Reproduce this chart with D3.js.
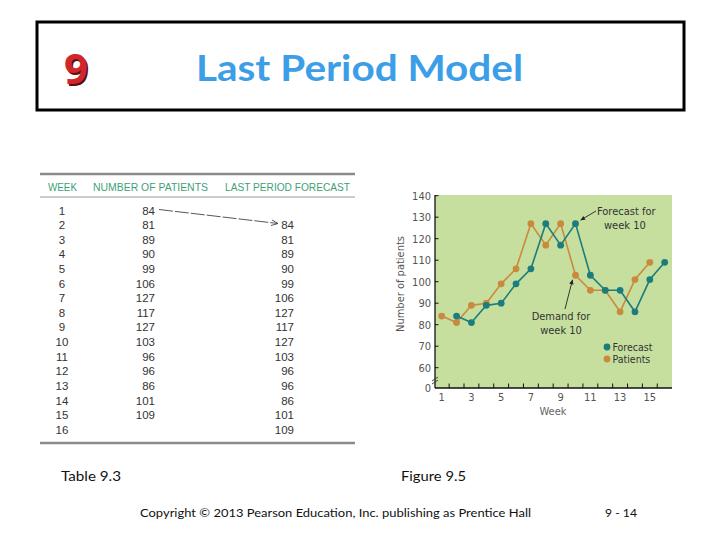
<!DOCTYPE html>
<html><head><meta charset="utf-8">
<script src="https://cdn.jsdelivr.net/npm/d3@7"></script>
<style>
html,body{margin:0;padding:0;background:#fff;}
svg{display:block;}
</style></head>
<body>
<svg id="c" width="720" height="540"></svg>
<script>
const weeks = [1,2,3,4,5,6,7,8,9,10,11,12,13,14,15,16];
const patients = [84,81,89,90,99,106,127,117,127,103,96,96,86,101,109,null];
const forecast = [null,84,81,89,90,99,106,127,117,127,103,96,96,86,101,109];
const yTicks = [60,70,80,90,100,110,120,130,140];
const xTickLabels = [1,3,5,7,9,11,13,15];
const tableHeaders = ["WEEK","NUMBER OF PATIENTS","LAST PERIOD FORECAST"];

(function(){
const svg = d3.select("#c");
const SANS = "Lato, 'Open Sans', sans-serif";

// Header box
svg.append("rect").attr("x",37).attr("y",22).attr("width",647).attr("height",88)
  .attr("fill","#fff").attr("stroke","#000").attr("stroke-width",3);
const nineFont = "'Noto Sans', 'Open Sans', sans-serif";
svg.append("text").attr("x",76).attr("y",84).attr("text-anchor","middle")
  .attr("font-family",nineFont).attr("font-weight",700).attr("font-size",42)
  .attr("fill","#5a1010").text("9").attr("transform","translate(1.5,1.5)");
svg.append("text").attr("x",76).attr("y",84).attr("text-anchor","middle")
  .attr("font-family",nineFont).attr("font-weight",700).attr("font-size",42)
  .attr("fill","#d1262b").text("9");
svg.append("text").attr("x",196).attr("y",81)
  .attr("font-family",SANS).attr("font-weight",700).attr("font-size",36)
  .attr("fill","#3d9ee8").attr("textLength",327).attr("lengthAdjust","spacingAndGlyphs")
  .text("Last Period Model");

// Table
const T = svg.append("g");
const tFont = "'Liberation Sans', Arial, sans-serif";
T.append("line").attr("x1",40).attr("x2",355).attr("y1",174).attr("y2",174).attr("stroke","#8a8a8a").attr("stroke-width",2.5);
T.append("line").attr("x1",40).attr("x2",355).attr("y1",197).attr("y2",197).attr("stroke","#9a9a9a").attr("stroke-width",1);
T.append("line").attr("x1",40).attr("x2",355).attr("y1",443).attr("y2",443).attr("stroke","#8a8a8a").attr("stroke-width",2.5);
const hdrX = [48,93,225];
const hdrW = [29,115,125];
tableHeaders.forEach((h,i)=>{
  T.append("text").attr("x",hdrX[i]).attr("y",190.5).attr("font-family",tFont).attr("font-size",11)
    .attr("fill","#3f9f78").attr("textLength",hdrW[i]).attr("lengthAdjust","spacingAndGlyphs").text(h);
});
const rowY = d3.scaleLinear().domain([1,16]).range([214.5,433.8]);
weeks.forEach((w,i)=>{
  const yy = rowY(w);
  T.append("text").attr("x",62).attr("y",yy).attr("text-anchor","middle").attr("font-family",tFont)
    .attr("font-size",11.5).attr("fill","#333").text(w);
  if (patients[i]!=null) T.append("text").attr("x",155).attr("y",yy).attr("text-anchor","end").attr("font-family",tFont)
    .attr("font-size",11.5).attr("fill","#333").text(patients[i]);
  if (forecast[i]!=null) T.append("text").attr("x",294).attr("y",yy).attr("text-anchor","end").attr("font-family",tFont)
    .attr("font-size",11.5).attr("fill","#333").text(forecast[i]);
});
// table arrow
const ta = [[159,209.5],[278,223.5]];
T.append("line").attr("x1",ta[0][0]).attr("y1",ta[0][1]).attr("x2",ta[1][0]).attr("y2",ta[1][1])
  .attr("stroke","#444").attr("stroke-width",0.9).attr("stroke-dasharray","14,2");
T.append("path").attr("d",`M${ta[1][0]-6},${ta[1][1]-3.5} L${ta[1][0]},${ta[1][1]} L${ta[1][0]-7},${ta[1][1]+2}`)
  .attr("fill","none").attr("stroke","#444").attr("stroke-width",0.9);

// Chart
const G = svg.append("g");
const pl=435, pr=672, pt=195, pb=388;
const x = d3.scaleLinear().domain([1,16]).range([441.7,664.7]);
const y = d3.scaleLinear().domain([60,140]).range([367.7,195.7]);
G.append("rect").attr("x",pl).attr("y",pt).attr("width",pr-pl).attr("height",pb-pt).attr("fill","#c6df9f");
const cFont = "'DejaVu Sans Condensed','Liberation Sans Narrow',sans-serif";
// axes
G.append("line").attr("x1",pl).attr("x2",pl).attr("y1",pt).attr("y2",pb).attr("stroke","#111").attr("stroke-width",1.3);
G.append("line").attr("x1",pl).attr("x2",pr).attr("y1",pb).attr("y2",pb).attr("stroke","#111").attr("stroke-width",1.3);
yTicks.forEach(t=>{
  G.append("line").attr("x1",pl).attr("x2",pl+3.5).attr("y1",y(t)).attr("y2",y(t)).attr("stroke","#111").attr("stroke-width",1);
  G.append("text").attr("x",pl-4).attr("y",y(t)+4).attr("text-anchor","end").attr("font-family",cFont)
    .attr("font-size",11).attr("fill","#555").text(t);
});
G.append("text").attr("x",pl-4).attr("y",pb+4).attr("text-anchor","end").attr("font-family",cFont)
  .attr("font-size",11).attr("fill","#555").text("0");
// axis break
[0,3].forEach(o=>{
  G.append("line").attr("x1",pl-3).attr("x2",pl+3).attr("y1",pb-9+o+2).attr("y2",pb-9+o-2).attr("stroke","#333").attr("stroke-width",0.9);
});
// x ticks at half weeks
d3.range(1.5,16,1).forEach(t=>{
  G.append("line").attr("x1",x(t)).attr("x2",x(t)).attr("y1",pb).attr("y2",pb-4.5).attr("stroke","#111").attr("stroke-width",1);
});
xTickLabels.forEach(t=>{
  G.append("text").attr("x",x(t)).attr("y",pb+13).attr("text-anchor","middle").attr("font-family",cFont)
    .attr("font-size",11).attr("fill","#555").text(t);
});
G.append("text").attr("x",553).attr("y",415).attr("text-anchor","middle").attr("font-family",cFont)
  .attr("font-size",11).attr("fill","#666").text("Week");
G.append("text").attr("transform","translate(404,284) rotate(-90)").attr("text-anchor","middle").attr("font-family",cFont)
  .attr("font-size",11).attr("fill","#555").text("Number of patients");

const orange="#c98a3e", teal="#1d7c7c";
const line = d3.line().x(d=>x(d.w)).y(d=>y(d.v));
const pData = weeks.map((w,i)=>({w,v:patients[i]})).filter(d=>d.v!=null);
const fData = weeks.map((w,i)=>({w,v:forecast[i]})).filter(d=>d.v!=null);
G.append("path").attr("d",line(pData)).attr("fill","none").attr("stroke",orange).attr("stroke-width",1.6);
G.selectAll(".pd").data(pData).enter().append("circle").attr("class","pd").attr("cx",d=>x(d.w)).attr("cy",d=>y(d.v)).attr("r",3.4).attr("fill",orange);
G.append("path").attr("d",line(fData)).attr("fill","none").attr("stroke",teal).attr("stroke-width",1.6);
G.selectAll(".fd").data(fData).enter().append("circle").attr("class","fd").attr("cx",d=>x(d.w)).attr("cy",d=>y(d.v)).attr("r",3.4).attr("fill",teal);

// legend
G.append("circle").attr("cx",607).attr("cy",347).attr("r",3.4).attr("fill",teal);
G.append("circle").attr("cx",607).attr("cy",359).attr("r",3.4).attr("fill",orange);
G.append("text").attr("x",612.5).attr("y",350.5).attr("font-family",cFont).attr("font-size",10.5).attr("fill","#333").text("Forecast");
G.append("text").attr("x",612.5).attr("y",362.5).attr("font-family",cFont).attr("font-size",10.5).attr("fill","#333").text("Patients");

// annotations
function arrow(x1,y1,x2,y2){
  G.append("line").attr("x1",x1).attr("y1",y1).attr("x2",x2).attr("y2",y2).attr("stroke","#222").attr("stroke-width",0.9);
  const a=Math.atan2(y2-y1,x2-x1), L=5, w=0.45;
  const p1=[x2-L*Math.cos(a-w),y2-L*Math.sin(a-w)], p2=[x2-L*Math.cos(a+w),y2-L*Math.sin(a+w)];
  G.append("path").attr("d",`M${x2},${y2}L${p1[0]},${p1[1]}L${p2[0]},${p2[1]}Z`).attr("fill","#222");
}
const fx=x(10), fy=y(forecast[9]);
arrow(596,211,fx+5,fy-3.5);
G.append("text").attr("x",597).attr("y",215).attr("font-family",cFont).attr("font-size",11).attr("fill","#333").text("Forecast for");
G.append("text").attr("x",604).attr("y",229).attr("font-family",cFont).attr("font-size",11).attr("fill","#333").text("week 10");
const px=x(10), py=y(patients[9]);
arrow(565,309,px-3,py+4.5);
G.append("text").attr("x",561).attr("y",320).attr("text-anchor","middle").attr("font-family",cFont).attr("font-size",11).attr("fill","#333").text("Demand for");
G.append("text").attr("x",561).attr("y",334).attr("text-anchor","middle").attr("font-family",cFont).attr("font-size",11).attr("fill","#333").text("week 10");

// captions
const capFont = "Lato, 'Open Sans', sans-serif";
svg.append("text").attr("x",61).attr("y",481).attr("font-family",capFont).attr("font-size",13).attr("fill","#111")
  .attr("textLength",60).attr("lengthAdjust","spacingAndGlyphs").text("Table 9.3");
svg.append("text").attr("x",401).attr("y",481).attr("font-family",capFont).attr("font-size",13).attr("fill","#111")
  .attr("textLength",65).attr("lengthAdjust","spacingAndGlyphs").text("Figure 9.5");
svg.append("text").attr("x",140).attr("y",517).attr("font-family",capFont).attr("font-size",12).attr("fill","#111")
  .attr("textLength",391).attr("lengthAdjust","spacingAndGlyphs").text("Copyright © 2013 Pearson Education, Inc. publishing as Prentice Hall");
svg.append("text").attr("x",605).attr("y",517).attr("font-family",capFont).attr("font-size",12).attr("fill","#111")
  .attr("textLength",32).attr("lengthAdjust","spacingAndGlyphs").text("9 - 14");
})();
</script>
</body></html>
